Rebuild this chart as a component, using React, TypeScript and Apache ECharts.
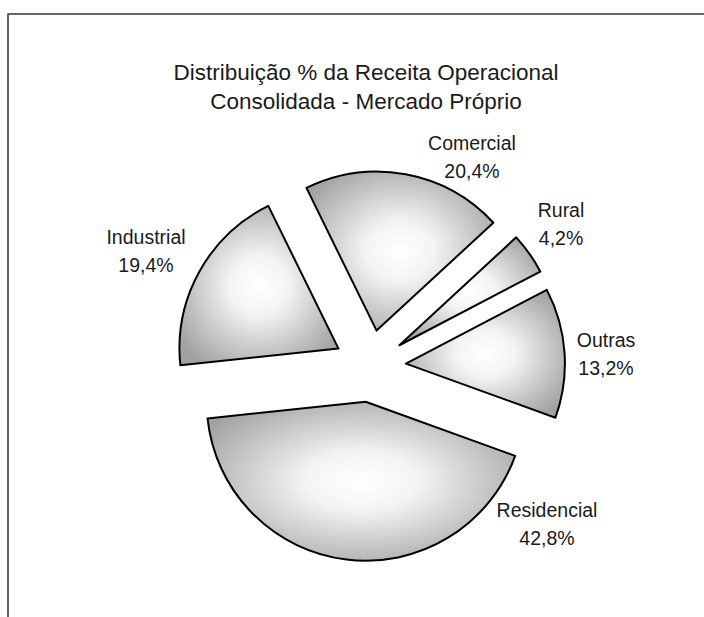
import React, { useEffect, useRef } from "react";
import * as echarts from "echarts";

// ---- Data ----
const CATEGORIES = ["Residencial", "Industrial", "Comercial", "Rural", "Outras"];
const SHARES = [42.8, 19.4, 20.4, 4.2, 13.2];
const TITLE_LINES = ["Distribuição % da Receita Operacional", "Consolidada - Mercado Próprio"];

// ---- Layout ----
const PIE_CENTER: [number, number] = [370, 366];
const PIE_RADIUS = 159;
const EXPLODE = 36;
const START_ANGLE = -19.9; // ECharts convention (degrees, counter-clockwise from 3 o'clock)
const LABEL_ANCHORS: [number, number][] = [
  [547, 524],
  [146, 251],
  [472, 157],
  [561, 224],
  [606, 354],
];

const FONT = "'Liberation Sans', Arial, sans-serif";

export default function App() {
  const ref = useRef<HTMLDivElement>(null);

  useEffect(() => {
    if (!ref.current) return;
    const chart = echarts.init(ref.current, undefined, { renderer: "svg" });

    const fill = {
      type: "radial",
      x: 0.5,
      y: 0.5,
      r: 0.6,
      colorStops: [
        { offset: 0, color: "#ffffff" },
        { offset: 0.3, color: "#f4f4f4" },
        { offset: 1, color: "#a2a2a2" },
      ],
    };
    const visibleStyle = { color: fill, borderColor: "#000", borderWidth: 2 };
    const hiddenStyle = { color: "rgba(0,0,0,0)", borderWidth: 0 };

    const total = SHARES.reduce((a, b) => a + b, 0);
    let cum = 0;
    const series = CATEGORIES.map((name, i) => {
      const mid = cum + SHARES[i] / 2;
      cum += SHARES[i];
      // screen angle (clockwise, y down) of the slice bisector
      const theta = ((-START_ANGLE + (360 * mid) / total) * Math.PI) / 180;
      const center = [
        PIE_CENTER[0] + EXPLODE * Math.cos(theta),
        PIE_CENTER[1] + EXPLODE * Math.sin(theta),
      ];
      return {
        type: "pie",
        center,
        radius: PIE_RADIUS,
        startAngle: START_ANGLE,
        clockwise: true,
        silent: true,
        avoidLabelOverlap: false,
        emphasis: { disabled: true },
        labelLine: { show: false },
        label: { show: false },
        labelLayout: (p: any) => ({
          x: LABEL_ANCHORS[p.seriesIndex][0],
          y: LABEL_ANCHORS[p.seriesIndex][1],
          align: "center",
          verticalAlign: "middle",
        }),
        data: CATEGORIES.map((n, j) => ({
          name: n,
          value: SHARES[j],
          itemStyle: j === i ? visibleStyle : hiddenStyle,
          label:
            j === i
              ? {
                  show: true,
                  position: "outside",
                  fontFamily: FONT,
                  fontSize: 19.5,
                  lineHeight: 28,
                  color: "#1a1a1a",
                  align: "center",
                  formatter: (p: any) =>
                    `${p.name}\n${Number(p.value).toFixed(1).replace(".", ",")}%`,
                }
              : { show: false },
        })),
      };
    });

    chart.setOption({
      animation: false,
      backgroundColor: "#fff",
      title: {
        text: TITLE_LINES.join("\n"),
        left: 361,
        top: 53,
        textAlign: "center",
        textStyle: {
          fontFamily: FONT,
          fontSize: 22.5,
          fontWeight: "normal",
          lineHeight: 29,
          color: "#1a1a1a",
        },
      },
      graphic: [
        {
          type: "rect",
          silent: true,
          shape: { x: 8, y: 14, width: 1000, height: 1000 },
          style: { fill: "none", stroke: "#333", lineWidth: 1.5 },
        },
      ],
      series,
    });

    return () => chart.dispose();
  }, []);

  return (
    <div
      ref={ref}
      style={{ position: "absolute", left: 0, top: 0, width: 704, height: 617 }}
    />
  );
}
